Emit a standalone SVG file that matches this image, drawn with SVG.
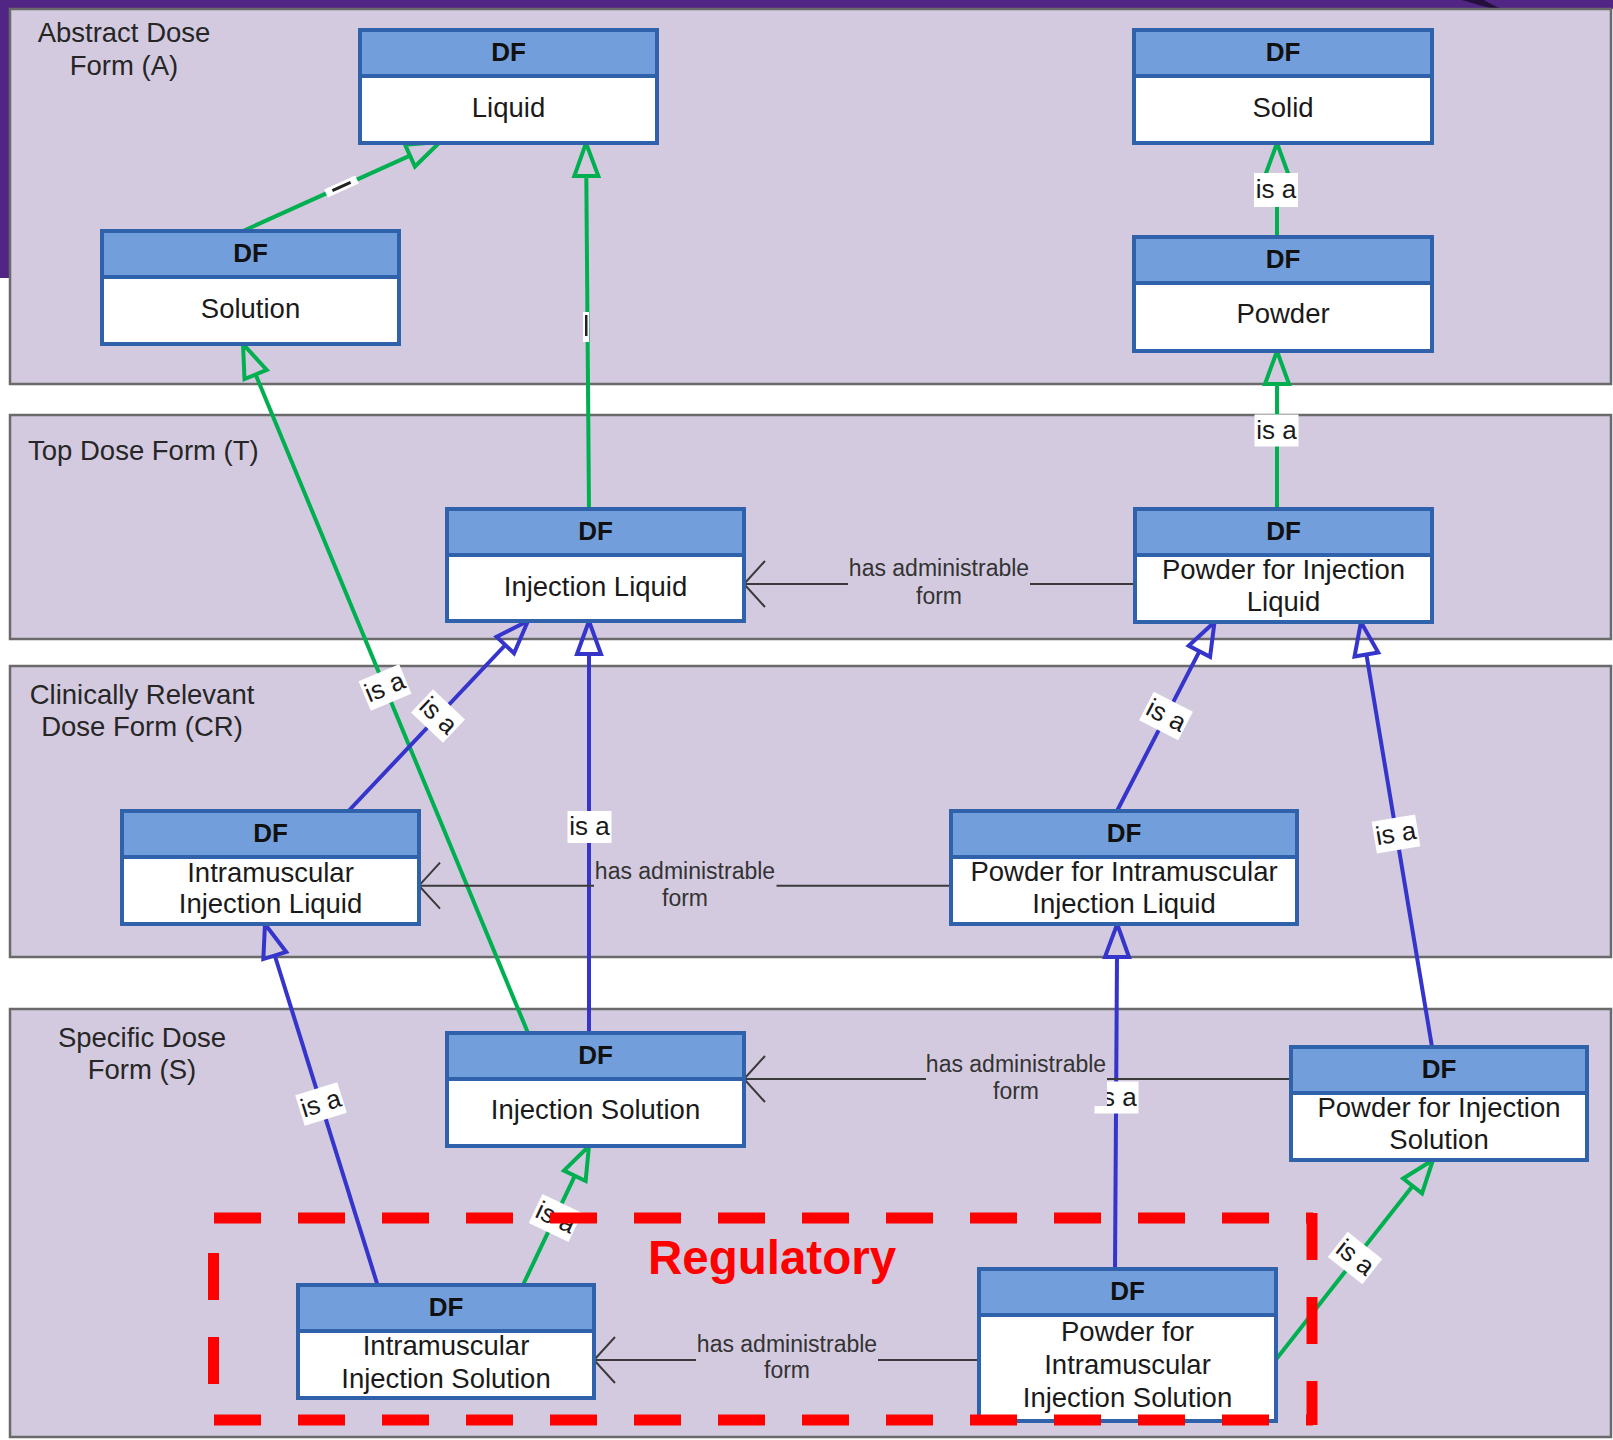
<svg xmlns="http://www.w3.org/2000/svg" width="1613" height="1440" viewBox="0 0 1613 1440">
  <defs>
    <style>
      .panel { fill: #d3cae0; stroke: #6a6a6a; stroke-width: 2.5; }
      .sec { font-family: "Liberation Sans", Arial, sans-serif; font-size: 27.5px; fill: #262626; text-anchor: middle; }
      .box { fill: #ffffff; stroke: #2f62ab; stroke-width: 4; }
      .hd { fill: #729fdb; stroke: #2f62ab; stroke-width: 4; }
      .df { font-family: "Liberation Sans", Arial, sans-serif; font-size: 26px; font-weight: bold; fill: #111; text-anchor: middle; }
      .nt { font-family: "Liberation Sans", Arial, sans-serif; font-size: 27.5px; fill: #1a1a1a; text-anchor: middle; }
      .green { fill: none; stroke: #00b050; stroke-width: 4; marker-end: url(#triG); }
      .blue { fill: none; stroke: #3535cc; stroke-width: 4; marker-end: url(#triB); }
      .haf { fill: none; stroke: #3a3a3a; stroke-width: 2; marker-end: url(#vee); }
      .lblbg { fill: #ffffff; }
      .lbl { font-family: "Liberation Sans", Arial, sans-serif; font-size: 26px; fill: #1a1a1a; text-anchor: middle; }
      .hafbg { fill: #d3cae0; }
      .haft { font-family: "Liberation Sans", Arial, sans-serif; font-size: 23px; fill: #333; text-anchor: middle; }
      .reg { fill: none; stroke: #ff0000; stroke-width: 11; stroke-dasharray: 47 37; }
    </style>
    <marker id="triG" markerUnits="userSpaceOnUse" markerWidth="40" markerHeight="30" refX="0" refY="0" viewBox="-3 -15 40 30" orient="auto" overflow="visible">
      <path d="M0,-12 L33,0 L0,12 Z" fill="none" stroke="#00b050" stroke-width="4"/>
    </marker>
    <marker id="triB" markerUnits="userSpaceOnUse" markerWidth="40" markerHeight="30" refX="0" refY="0" viewBox="-3 -15 40 30" orient="auto" overflow="visible">
      <path d="M0,-12 L33,0 L0,12 Z" fill="none" stroke="#3535cc" stroke-width="4"/>
    </marker>
    <marker id="vee" markerUnits="userSpaceOnUse" markerWidth="30" markerHeight="50" refX="0" refY="0" viewBox="-25 -25 30 50" orient="auto" overflow="visible">
      <path d="M-21,-23 L0,0 L-21,23" fill="none" stroke="#3a3a3a" stroke-width="2"/>
    </marker>
  </defs>

  <!-- page background and slide frame -->
  <rect x="0" y="0" width="1613" height="1440" fill="#ffffff"/>
  <rect x="0" y="0" width="1613" height="9" fill="#512583"/>
  <rect x="0" y="0" width="11" height="278" fill="#512583"/>
  <path d="M1462,0 Q1478,5 1494,9 L1502,9 Q1490,4 1484,0 Z" fill="#1c0a30" opacity="0.85"/>

  <!-- layer panels -->
  <g id="panels">
    <rect class="panel" x="10" y="9" width="1601" height="375"/>
    <rect class="panel" x="10" y="415" width="1601" height="224"/>
    <rect class="panel" x="10" y="666" width="1601" height="291"/>
    <rect class="panel" x="10" y="1009" width="1601" height="428"/>
    <text class="sec" x="124" y="42">Abstract Dose</text>
    <text class="sec" x="124" y="75">Form (A)</text>
    <text class="sec" x="28" y="460" style="text-anchor:start">Top Dose Form (T)</text>
    <text class="sec" x="142" y="704">Clinically Relevant</text>
    <text class="sec" x="142" y="736">Dose Form (CR)</text>
    <text class="sec" x="142" y="1047">Specific Dose</text>
    <text class="sec" x="142" y="1079">Form (S)</text>
  </g>

  <!-- "is a" connectors -->
  <g id="connectors">
    <path class="green" d="M243,231 L410,155.6"/>
    <path class="green" d="M589,509 L586.3,176"/>
    <path class="green" d="M1277,237 L1277,176"/>
    <path class="green" d="M1277,509 L1277,384"/>
    <path class="green" d="M528,1033 L255.6,374.5"/>
    <path class="blue" d="M348.5,811 L505.3,645"/>
    <path class="blue" d="M589,1033 L589,654"/>
    <path class="blue" d="M1117,811 L1199.4,651.3"/>
    <path class="blue" d="M1432,1047 L1366.4,654.5"/>
    <path class="blue" d="M377.5,1285 L274.8,955.5"/>
    <path class="blue" d="M1115,1269 L1117,957"/>
    <path class="green" d="M523,1285 L574.8,1175.8"/>
    <path class="green" d="M1274,1362 L1412.6,1185.9"/>

    <!-- squeezed labels on the two Liquid links -->
    <g transform="translate(341.5,186.5) rotate(-24.3)">
      <rect x="-17" y="-4.5" width="34" height="9" fill="#ffffff"/>
      <rect x="-10" y="-1.5" width="20" height="3" fill="#222"/>
    </g>
    <rect x="583" y="312" width="6" height="30" fill="#ffffff"/>
    <rect x="585" y="315" width="2.5" height="21" fill="#222"/>

    <!-- "is a" labels -->
    <g transform="translate(1276,190)"><rect class="lblbg" x="-22" y="-17" width="44" height="34"/><text class="lbl" y="8">is a</text></g>
    <g transform="translate(1276.5,430.5)"><rect class="lblbg" x="-22" y="-16" width="44" height="32"/><text class="lbl" y="8">is a</text></g>
    <g transform="translate(385,687.5) rotate(-22.5)"><rect class="lblbg" x="-22" y="-16" width="44" height="32"/><text class="lbl" y="8">is a</text></g>
    <g transform="translate(438,716) rotate(43.4)"><rect class="lblbg" x="-22" y="-16" width="44" height="32"/><text class="lbl" y="8">is a</text></g>
    <g transform="translate(589.5,827)"><rect class="lblbg" x="-22" y="-16" width="44" height="32"/><text class="lbl" y="8">is a</text></g>
    <g transform="translate(1166,716) rotate(27.3)"><rect class="lblbg" x="-22" y="-16" width="44" height="32"/><text class="lbl" y="8">is a</text></g>
    <g transform="translate(1396,834) rotate(-9.5)"><rect class="lblbg" x="-22" y="-16" width="44" height="32"/><text class="lbl" y="8">is a</text></g>
    <g transform="translate(321,1104) rotate(-17.3)"><rect class="lblbg" x="-22" y="-16" width="44" height="32"/><text class="lbl" y="8">is a</text></g>
    <g transform="translate(1116.5,1097.5)"><rect class="lblbg" x="-22" y="-16" width="44" height="32"/><text class="lbl" y="8">is a</text></g>
    <g transform="translate(555.5,1218) rotate(25.4)"><rect class="lblbg" x="-22" y="-16" width="44" height="32"/><text class="lbl" y="8">is a</text></g>
    <g transform="translate(1355,1258) rotate(38.2)"><rect class="lblbg" x="-22" y="-16" width="44" height="32"/><text class="lbl" y="8">is a</text></g>

    <!-- "has administrable form" connectors -->
    <path class="haf" d="M1135,584 L744,584"/>
    <rect class="hafbg" x="848" y="558" width="182" height="52"/>
    <text class="haft" x="939" y="576">has administrable</text>
    <text class="haft" x="939" y="604">form</text>

    <path class="haf" d="M951,885.7 L419,885.7"/>
    <rect class="hafbg" x="594" y="858" width="182.5" height="54"/>
    <text class="haft" x="685" y="879">has administrable</text>
    <text class="haft" x="685" y="906">form</text>

    <path class="haf" d="M1291,1079 L744,1079"/>
    <rect class="hafbg" x="926" y="1052" width="181" height="54"/>
    <text class="haft" x="1016" y="1072">has administrable</text>
    <text class="haft" x="1016" y="1099">form</text>

    <path class="haf" d="M979,1360 L594,1360"/>
    <rect class="hafbg" x="696" y="1332" width="182" height="53"/>
    <text class="haft" x="787" y="1352">has administrable</text>
    <text class="haft" x="787" y="1378">form</text>
  </g>

  <!-- dose form nodes -->
  <g id="liquid">
    <rect class="box" x="360" y="30" width="297" height="113"/>
    <rect class="hd" x="360" y="30" width="297" height="46"/>
    <text class="df" x="508.5" y="61">DF</text>
    <text class="nt" x="508.5" y="117">Liquid</text>
  </g>
  <g id="solid">
    <rect class="box" x="1134" y="30" width="298" height="113"/>
    <rect class="hd" x="1134" y="30" width="298" height="46"/>
    <text class="df" x="1283" y="61">DF</text>
    <text class="nt" x="1283" y="117">Solid</text>
  </g>
  <g id="solution">
    <rect class="box" x="102" y="231" width="297" height="113"/>
    <rect class="hd" x="102" y="231" width="297" height="46"/>
    <text class="df" x="250.5" y="262">DF</text>
    <text class="nt" x="250.5" y="318">Solution</text>
  </g>
  <g id="powder">
    <rect class="box" x="1134" y="237" width="298" height="114"/>
    <rect class="hd" x="1134" y="237" width="298" height="46"/>
    <text class="df" x="1283" y="268">DF</text>
    <text class="nt" x="1283" y="323">Powder</text>
  </g>
  <g id="injection-liquid">
    <rect class="box" x="447" y="509" width="297" height="112"/>
    <rect class="hd" x="447" y="509" width="297" height="46"/>
    <text class="df" x="595.5" y="540">DF</text>
    <text class="nt" x="595.5" y="596">Injection Liquid</text>
  </g>
  <g id="powder-for-injection-liquid">
    <rect class="box" x="1135" y="509" width="297" height="113"/>
    <rect class="hd" x="1135" y="509" width="297" height="46"/>
    <text class="df" x="1283.5" y="540">DF</text>
    <text class="nt" x="1283.5" y="579">Powder for Injection</text>
    <text class="nt" x="1283.5" y="611">Liquid</text>
  </g>
  <g id="intramuscular-injection-liquid">
    <rect class="box" x="122" y="811" width="297" height="113"/>
    <rect class="hd" x="122" y="811" width="297" height="46"/>
    <text class="df" x="270.5" y="842">DF</text>
    <text class="nt" x="270.5" y="882">Intramuscular</text>
    <text class="nt" x="270.5" y="913">Injection Liquid</text>
  </g>
  <g id="powder-for-intramuscular-injection-liquid">
    <rect class="box" x="951" y="811" width="346" height="113"/>
    <rect class="hd" x="951" y="811" width="346" height="46"/>
    <text class="df" x="1124" y="842">DF</text>
    <text class="nt" x="1124" y="881">Powder for Intramuscular</text>
    <text class="nt" x="1124" y="913">Injection Liquid</text>
  </g>
  <g id="injection-solution">
    <rect class="box" x="447" y="1033" width="297" height="113"/>
    <rect class="hd" x="447" y="1033" width="297" height="46"/>
    <text class="df" x="595.5" y="1064">DF</text>
    <text class="nt" x="595.5" y="1119">Injection Solution</text>
  </g>
  <g id="powder-for-injection-solution">
    <rect class="box" x="1291" y="1047" width="296" height="113"/>
    <rect class="hd" x="1291" y="1047" width="296" height="46"/>
    <text class="df" x="1439" y="1078">DF</text>
    <text class="nt" x="1439" y="1117">Powder for Injection</text>
    <text class="nt" x="1439" y="1149">Solution</text>
  </g>
  <g id="intramuscular-injection-solution">
    <rect class="box" x="298" y="1285" width="296" height="113"/>
    <rect class="hd" x="298" y="1285" width="296" height="46"/>
    <text class="df" x="446" y="1316">DF</text>
    <text class="nt" x="446" y="1355">Intramuscular</text>
    <text class="nt" x="446" y="1388">Injection Solution</text>
  </g>
  <g id="powder-for-intramuscular-injection-solution">
    <rect class="box" x="979" y="1269" width="297" height="152"/>
    <rect class="hd" x="979" y="1269" width="297" height="46"/>
    <text class="df" x="1127.5" y="1300">DF</text>
    <text class="nt" x="1127.5" y="1341">Powder for</text>
    <text class="nt" x="1127.5" y="1374">Intramuscular</text>
    <text class="nt" x="1127.5" y="1407">Injection Solution</text>
  </g>

  <!-- regulatory scope -->
  <g id="regulatory">
    <line class="reg" x1="214" y1="1218" x2="1313" y2="1218"/>
    <line class="reg" x1="214" y1="1420" x2="1313" y2="1420"/>
    <line class="reg" x1="1312" y1="1213" x2="1312" y2="1425"/>
    <line class="reg" x1="213.5" y1="1253" x2="213.5" y2="1386"/>
    <text x="648" y="1274" font-family="'Liberation Sans', Arial, sans-serif" font-size="47.5" font-weight="bold" fill="#ff0000">Regulatory</text>
  </g>
</svg>
